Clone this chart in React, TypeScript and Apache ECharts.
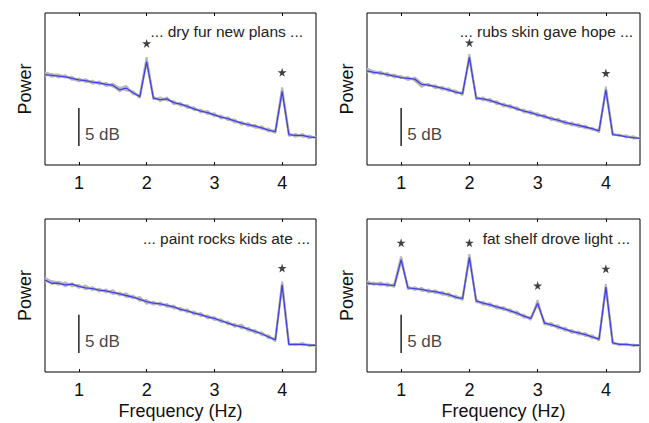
import React, { useEffect, useRef } from "react";
import * as echarts from "echarts";

const FREQ = [0.5, 0.6, 0.7, 0.8, 0.9, 1.0, 1.1, 1.2, 1.3, 1.4, 1.5, 1.6, 1.7, 1.8, 1.9, 2.0, 2.1, 2.2, 2.3, 2.4, 2.5, 2.6, 2.7, 2.8, 2.9, 3.0, 3.1, 3.2, 3.3, 3.4, 3.5, 3.6, 3.7, 3.8, 3.9, 4.0, 4.1, 4.2, 4.3, 4.4, 4.5];
const X_TICKS = [1, 2, 3, 4];

// Panel 1: "... dry fur new plans ..."
const P1_TITLE = "... dry fur new plans ...";
const P1_MEAN = [11.9, 11.8, 11.7, 11.6, 11.4, 11.2, 11.1, 10.9, 10.8, 10.6, 10.5, 9.9, 10.1, 9.5, 9.0, 13.6, 8.8, 8.6, 8.7, 8.2, 8.0, 7.7, 7.4, 7.1, 6.9, 6.6, 6.3, 6.1, 5.8, 5.5, 5.3, 5.1, 4.9, 4.6, 4.4, 9.7, 4.0, 3.9, 3.9, 3.7, 3.6];
const P1_TRIAL_A = [12.2, 11.9, 11.9, 11.5, 11.6, 11.1, 11.3, 10.8, 11.0, 10.4, 10.7, 10.1, 10.4, 9.3, 9.2, 14.2, 8.6, 8.9, 8.5, 8.4, 7.8, 7.9, 7.2, 7.3, 6.7, 6.8, 6.1, 6.3, 5.6, 5.7, 5.1, 5.3, 4.7, 4.8, 4.2, 10.2, 4.2, 3.7, 4.1, 3.5, 3.8];
const P1_TRIAL_B = [11.7, 12.0, 11.5, 11.8, 11.2, 11.4, 10.9, 11.1, 10.6, 10.8, 10.3, 10.2, 9.8, 9.7, 8.8, 13.9, 9.0, 8.4, 8.9, 8.0, 8.2, 7.5, 7.6, 6.9, 7.1, 6.4, 6.5, 5.9, 6.0, 5.3, 5.5, 4.9, 5.1, 4.4, 4.6, 9.9, 3.8, 4.1, 3.7, 3.9, 3.5];
const P1_TRIAL_C = [12.1, 11.6, 11.8, 11.7, 11.3, 11.0, 11.2, 10.7, 10.9, 10.5, 10.4, 9.7, 10.2, 9.6, 9.1, 13.4, 8.9, 8.5, 8.6, 8.3, 7.9, 7.8, 7.3, 7.2, 6.8, 6.5, 6.4, 6.0, 5.7, 5.6, 5.2, 5.0, 4.8, 4.5, 4.3, 9.5, 4.1, 3.8, 3.8, 3.6, 3.7];
const P1_STARS = [[2, 16.0], [4, 12.2]];

// Panel 2: "... rubs skin gave hope ..."
const P2_TITLE = "... rubs skin gave hope ...";
const P2_MEAN = [12.4, 12.2, 12.1, 11.9, 11.7, 11.5, 11.4, 11.3, 10.6, 10.5, 10.3, 10.1, 9.9, 9.6, 9.4, 14.2, 8.8, 8.7, 8.5, 8.2, 7.9, 7.7, 7.4, 7.1, 6.9, 6.6, 6.4, 6.1, 5.9, 5.6, 5.4, 5.2, 5.0, 4.8, 4.5, 9.9, 4.0, 3.9, 3.7, 3.6, 3.5];
const P2_TRIAL_A = [12.7, 12.3, 12.2, 11.8, 11.9, 11.4, 11.6, 11.1, 10.3, 10.7, 10.1, 10.3, 9.8, 9.8, 9.2, 14.6, 8.6, 8.9, 8.3, 8.4, 7.7, 7.9, 7.2, 7.3, 6.7, 6.8, 6.2, 6.3, 5.7, 5.8, 5.2, 5.4, 4.8, 4.9, 4.3, 10.3, 4.2, 3.8, 3.9, 3.5, 3.6];
const P2_TRIAL_B = [12.2, 12.4, 11.9, 12.1, 11.5, 11.7, 11.2, 11.5, 10.8, 10.4, 10.5, 9.9, 10.1, 9.4, 9.6, 13.9, 9.0, 8.5, 8.7, 8.0, 8.1, 7.5, 7.6, 6.9, 7.1, 6.4, 6.6, 5.9, 6.1, 5.4, 5.6, 5.0, 5.2, 4.6, 4.7, 9.7, 3.9, 4.0, 3.6, 3.8, 3.4];
const P2_TRIAL_C = [12.5, 12.0, 12.3, 11.7, 11.8, 11.6, 11.2, 11.4, 10.5, 10.6, 10.2, 10.2, 9.7, 9.7, 9.3, 14.0, 8.9, 8.6, 8.4, 8.3, 7.8, 7.6, 7.5, 7.0, 6.8, 6.7, 6.3, 6.0, 5.8, 5.5, 5.3, 5.1, 4.9, 4.7, 4.4, 9.8, 4.1, 3.8, 3.8, 3.5, 3.6];
const P2_STARS = [[2, 16.1], [4, 12.1]];

// Panel 3: "... paint rocks kids ate ..."
const P3_TITLE = "... paint rocks kids ate ...";
const P3_MEAN = [12.0, 11.6, 11.6, 11.4, 11.5, 11.2, 11.0, 10.9, 10.7, 10.6, 10.4, 10.2, 10.0, 9.8, 9.5, 9.2, 9.0, 8.9, 8.7, 8.5, 8.2, 8.0, 7.7, 7.5, 7.2, 7.0, 6.7, 6.4, 6.1, 5.9, 5.6, 5.3, 5.0, 4.6, 4.2, 11.4, 3.6, 3.6, 3.6, 3.5, 3.5];
const P3_TRIAL_A = [12.3, 11.8, 11.4, 11.7, 11.2, 11.4, 10.8, 11.1, 10.5, 10.8, 10.2, 10.4, 9.8, 10.0, 9.3, 9.4, 8.8, 9.1, 8.5, 8.7, 8.0, 8.2, 7.5, 7.7, 7.0, 7.2, 6.5, 6.6, 5.9, 6.2, 5.4, 5.5, 4.8, 4.8, 4.0, 11.8, 3.7, 3.5, 3.8, 3.4, 3.6];
const P3_TRIAL_B = [11.8, 11.9, 11.7, 11.2, 11.6, 11.0, 11.3, 10.7, 10.9, 10.4, 10.7, 10.0, 10.3, 9.6, 9.8, 8.9, 9.2, 8.7, 8.9, 8.3, 8.4, 7.8, 7.9, 7.3, 7.4, 6.8, 6.9, 6.2, 6.3, 5.7, 5.8, 5.1, 5.2, 4.4, 4.4, 11.1, 3.5, 3.7, 3.5, 3.6, 3.4];
const P3_TRIAL_C = [12.1, 11.5, 11.8, 11.5, 11.3, 11.3, 10.9, 11.0, 10.6, 10.6, 10.3, 10.3, 9.9, 9.7, 9.6, 9.1, 8.9, 9.0, 8.6, 8.4, 8.3, 7.9, 7.8, 7.4, 7.3, 6.9, 6.6, 6.5, 6.0, 6.0, 5.5, 5.2, 5.1, 4.5, 4.3, 11.6, 3.6, 3.6, 3.7, 3.5, 3.5];
const P3_STARS = [[4, 13.6]];

// Panel 4: "fat shelf drove light ..."
const P4_TITLE = "fat shelf drove light ...";
const P4_MEAN = [11.6, 11.5, 11.5, 11.4, 11.3, 14.7, 11.0, 10.9, 10.8, 10.6, 10.5, 10.3, 10.1, 9.8, 9.6, 15.0, 9.3, 9.0, 8.8, 8.5, 8.3, 8.0, 7.7, 7.3, 7.0, 9.0, 6.4, 6.2, 5.9, 5.6, 5.3, 5.1, 4.9, 4.6, 4.3, 11.1, 3.8, 3.6, 3.6, 3.5, 3.5];
const P4_TRIAL_A = [11.9, 11.4, 11.7, 11.2, 11.5, 15.1, 10.8, 11.1, 10.6, 10.8, 10.3, 10.5, 9.9, 10.0, 9.4, 15.4, 9.1, 9.2, 8.6, 8.7, 8.1, 8.2, 7.5, 7.5, 6.8, 9.4, 6.2, 6.4, 5.7, 5.8, 5.1, 5.3, 4.7, 4.8, 4.1, 11.5, 3.9, 3.5, 3.7, 3.4, 3.6];
const P4_TRIAL_B = [11.4, 11.7, 11.3, 11.6, 11.1, 14.4, 11.2, 10.7, 11.0, 10.4, 10.7, 10.1, 10.3, 9.6, 9.8, 14.7, 9.5, 8.8, 9.0, 8.3, 8.5, 7.8, 7.9, 7.1, 7.2, 8.7, 6.6, 6.0, 6.1, 5.4, 5.5, 4.9, 5.1, 4.4, 4.5, 10.8, 3.7, 3.7, 3.5, 3.6, 3.4];
const P4_TRIAL_C = [11.7, 11.6, 11.4, 11.5, 11.2, 14.9, 10.9, 11.0, 10.7, 10.6, 10.4, 10.2, 10.0, 9.7, 9.5, 15.2, 9.2, 8.9, 8.7, 8.4, 8.2, 7.9, 7.6, 7.2, 6.9, 9.1, 6.3, 6.1, 5.8, 5.5, 5.4, 5.0, 4.8, 4.5, 4.2, 11.3, 3.8, 3.6, 3.6, 3.5, 3.5];
const P4_STARS = [[1, 16.9], [2, 16.9], [3, 11.3], [4, 13.5]];

// 5 dB scale bar (at 1 Hz) and its label
const SCALE_BAR = [[1, 2.5], [1, 7.5]];
const SCALE_LABEL = [[1, 4.0]];
const SCALE_TEXT = "5 dB";

const FONT = "Liberation Sans, Arial, Helvetica, sans-serif";
const STAR_PATH =
  "path://M50,0 L61,35 L98,35 L68,57 L79,91 L50,70 L21,91 L32,57 L2,35 L39,35 Z";

const PANELS = [
  { title: P1_TITLE, mean: P1_MEAN, trials: [P1_TRIAL_A, P1_TRIAL_B, P1_TRIAL_C], stars: P1_STARS },
  { title: P2_TITLE, mean: P2_MEAN, trials: [P2_TRIAL_A, P2_TRIAL_B, P2_TRIAL_C], stars: P2_STARS },
  { title: P3_TITLE, mean: P3_MEAN, trials: [P3_TRIAL_A, P3_TRIAL_B, P3_TRIAL_C], stars: P3_STARS },
  { title: P4_TITLE, mean: P4_MEAN, trials: [P4_TRIAL_A, P4_TRIAL_B, P4_TRIAL_C], stars: P4_STARS },
];

const GRIDS = [
  { left: 45, top: 13, width: 271, height: 152 },
  { left: 367, top: 13, width: 273, height: 152 },
  { left: 45, top: 219, width: 271, height: 153 },
  { left: 367, top: 219, width: 273, height: 153 },
];
const TITLE_POS = [
  { x: 303, y: 31 },
  { x: 633, y: 31 },
  { x: 310, y: 238 },
  { x: 630, y: 238 },
];

const pairs = (vals: number[]) => FREQ.map((f, i) => [f, vals[i]]);

export default function App() {
  const ref = useRef<HTMLDivElement>(null);
  useEffect(() => {
    if (!ref.current) return;
    const chart = echarts.init(ref.current, null, { renderer: "svg" });

    const xAxis: any[] = [];
    const yAxis: any[] = [];
    const series: any[] = [];
    const graphic: any[] = [];

    PANELS.forEach((p, gi) => {
      const bottomRow = gi >= 2;
      xAxis.push({
        type: "value",
        gridIndex: gi,
        min: 0.5,
        max: 4.5,
        position: "bottom",
        axisLine: { show: false },
        axisTick: { show: true, inside: true, length: 3, customValues: X_TICKS, lineStyle: { color: "#000" } },
        axisLabel: { show: true, customValues: X_TICKS, margin: 9, fontSize: 18, color: "#111", fontFamily: FONT },
        splitLine: { show: false },
        name: bottomRow ? "Frequency (Hz)" : "",
        nameLocation: "middle",
        nameGap: 30,
        nameTextStyle: { fontSize: 18, color: "#111", fontFamily: FONT },
      });
      xAxis.push({
        type: "value",
        gridIndex: gi,
        min: 0.5,
        max: 4.5,
        position: "top",
        axisLine: { show: false },
        axisTick: { show: true, inside: true, length: 3, customValues: X_TICKS, lineStyle: { color: "#000" } },
        axisLabel: { show: false },
        splitLine: { show: false },
      });
      yAxis.push({
        type: "value",
        gridIndex: gi,
        min: 0,
        max: 20,
        axisLine: { show: false },
        axisTick: { show: false },
        axisLabel: { show: false },
        splitLine: { show: false },
        name: "Power",
        nameLocation: "middle",
        nameGap: 11,
        nameTextStyle: { fontSize: 18, color: "#111", fontFamily: FONT },
      });

      p.trials.forEach((t) => {
        series.push({
          type: "line",
          xAxisIndex: gi * 2,
          yAxisIndex: gi,
          data: pairs(t),
          showSymbol: false,
          lineStyle: { color: "#b8b8b8", width: 2 },
          z: 2,
        });
      });
      series.push({
        type: "line",
        xAxisIndex: gi * 2,
        yAxisIndex: gi,
        data: pairs(p.mean),
        showSymbol: false,
        lineStyle: { color: "#4040e6", width: 1.3 },
        z: 4,
      });
      series.push({
        type: "line",
        xAxisIndex: gi * 2,
        yAxisIndex: gi,
        data: SCALE_BAR,
        showSymbol: false,
        lineStyle: { color: "#000", width: 1.3 },
        z: 5,
      });
      series.push({
        type: "scatter",
        xAxisIndex: gi * 2,
        yAxisIndex: gi,
        data: SCALE_LABEL,
        symbolSize: 0.1,
        itemStyle: { color: "rgba(0,0,0,0)" },
        label: {
          show: true,
          position: "right",
          distance: 6,
          formatter: SCALE_TEXT,
          fontSize: 17,
          color: "#111",
          fontFamily: FONT,
        },
        z: 5,
      });
      series.push({
        type: "scatter",
        xAxisIndex: gi * 2,
        yAxisIndex: gi,
        data: p.stars,
        symbol: STAR_PATH,
        symbolSize: 9,
        itemStyle: { color: "#111" },
        z: 6,
      });
      graphic.push({
        type: "text",
        x: TITLE_POS[gi].x,
        y: TITLE_POS[gi].y,
        style: {
          text: p.title,
          fill: "#222",
          fontSize: 15.5,
          fontFamily: FONT,
          textAlign: "right",
          textVerticalAlign: "middle",
        },
        z: 10,
      });
    });

    chart.setOption({
      animation: false,
      backgroundColor: "#fff",
      grid: GRIDS.map((g) => ({ ...g, show: true, borderColor: "#000", borderWidth: 1, backgroundColor: "transparent" })),
      xAxis,
      yAxis,
      series,
      graphic,
    });
    return () => chart.dispose();
  }, []);
  return <div ref={ref} style={{ position: "fixed", left: 0, top: 0, width: 649, height: 423 }} />;
}
